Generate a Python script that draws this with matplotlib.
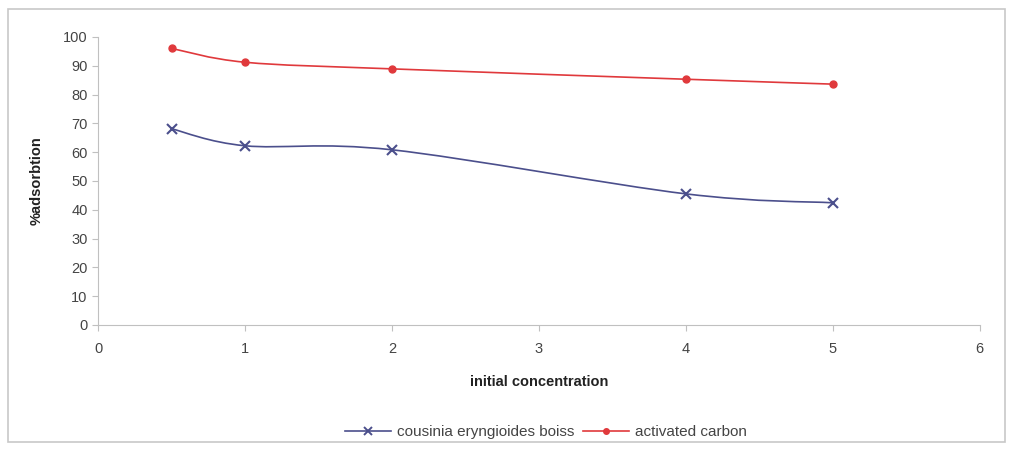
import matplotlib.pyplot as plt
from matplotlib.path import Path
from matplotlib.patches import PathPatch, Rectangle
from matplotlib.lines import Line2D

plt.rcParams['font.family'] = ['Liberation Sans', 'DejaVu Sans']

conc = [0.5, 1, 2, 4, 5]
cousinia = [68.1, 62.2, 60.8, 45.5, 42.4]
carbon = [96.0, 91.2, 88.9, 85.3, 83.6]
labels = ["cousinia eryngioides boiss", "activated carbon"]

blue = "#4b4f8c"
red = "#e0393c"


def smooth_path(x, y, t=1 / 6):
    # Excel-style smoothed line: Catmull-Rom segments drawn as cubic Bezier
    verts = [(x[0], y[0])]
    codes = [Path.MOVETO]
    n = len(x)
    for i in range(n - 1):
        x0, y0 = (x[i - 1], y[i - 1]) if i > 0 else (x[i], y[i])
        x3, y3 = (x[i + 2], y[i + 2]) if i + 2 < n else (x[i + 1], y[i + 1])
        c1 = (x[i] + (x[i + 1] - x0) * t, y[i] + (y[i + 1] - y0) * t)
        c2 = (x[i + 1] - (x3 - x[i]) * t, y[i + 1] - (y3 - y[i]) * t)
        verts += [c1, c2, (x[i + 1], y[i + 1])]
        codes += [Path.CURVE4] * 3
    return Path(verts, codes)


fig = plt.figure(figsize=(10.11, 4.5), dpi=100)
fig.patches.append(Rectangle((0.008, 0.018), 0.986, 0.962, transform=fig.transFigure,
                             fill=False, edgecolor="#c8c8c8", linewidth=1.2))
ax = fig.add_axes([0.097, 0.278, 0.872, 0.64])

for ys, col in [(cousinia, blue), (carbon, red)]:
    ax.add_patch(PathPatch(smooth_path(conc, ys), fill=False, edgecolor=col, linewidth=1.2))

ax.plot(conc, cousinia, linestyle="none", marker="x", color=blue, markersize=7, mew=1.5)
ax.plot(conc, carbon, linestyle="none", marker="o", color=red, markersize=5)

ax.set_xlim(0, 6)
ax.set_ylim(0, 100)
ax.set_xticks(range(0, 7))
ax.set_yticks(range(0, 101, 10))
for s in ["top", "right"]:
    ax.spines[s].set_visible(False)
for s in ["left", "bottom"]:
    ax.spines[s].set_color("#c0c0c0")
ax.tick_params(colors="#c0c0c0", labelcolor="#444444", labelsize=10.5, length=4)
ax.tick_params(axis="x", pad=8)

ax.set_xlabel("initial concentration", fontsize=10.5, fontweight="bold", color="#222222", labelpad=14)
ax.set_ylabel("%adsorbtion", fontsize=10.5, fontweight="bold", color="#222222", labelpad=14)

handles = [Line2D([], [], color=blue, marker="x", markersize=6, mew=1.4, lw=1.2),
           Line2D([], [], color=red, marker="o", markersize=4, lw=1.2)]
fig.legend(handles, labels, loc="center", bbox_to_anchor=(0.54, 0.04), ncol=2, frameon=False,
           fontsize=11, handlelength=3, columnspacing=0.6, handletextpad=0.4,
           labelcolor="#444444")

fig.savefig("out.png", dpi=100)
